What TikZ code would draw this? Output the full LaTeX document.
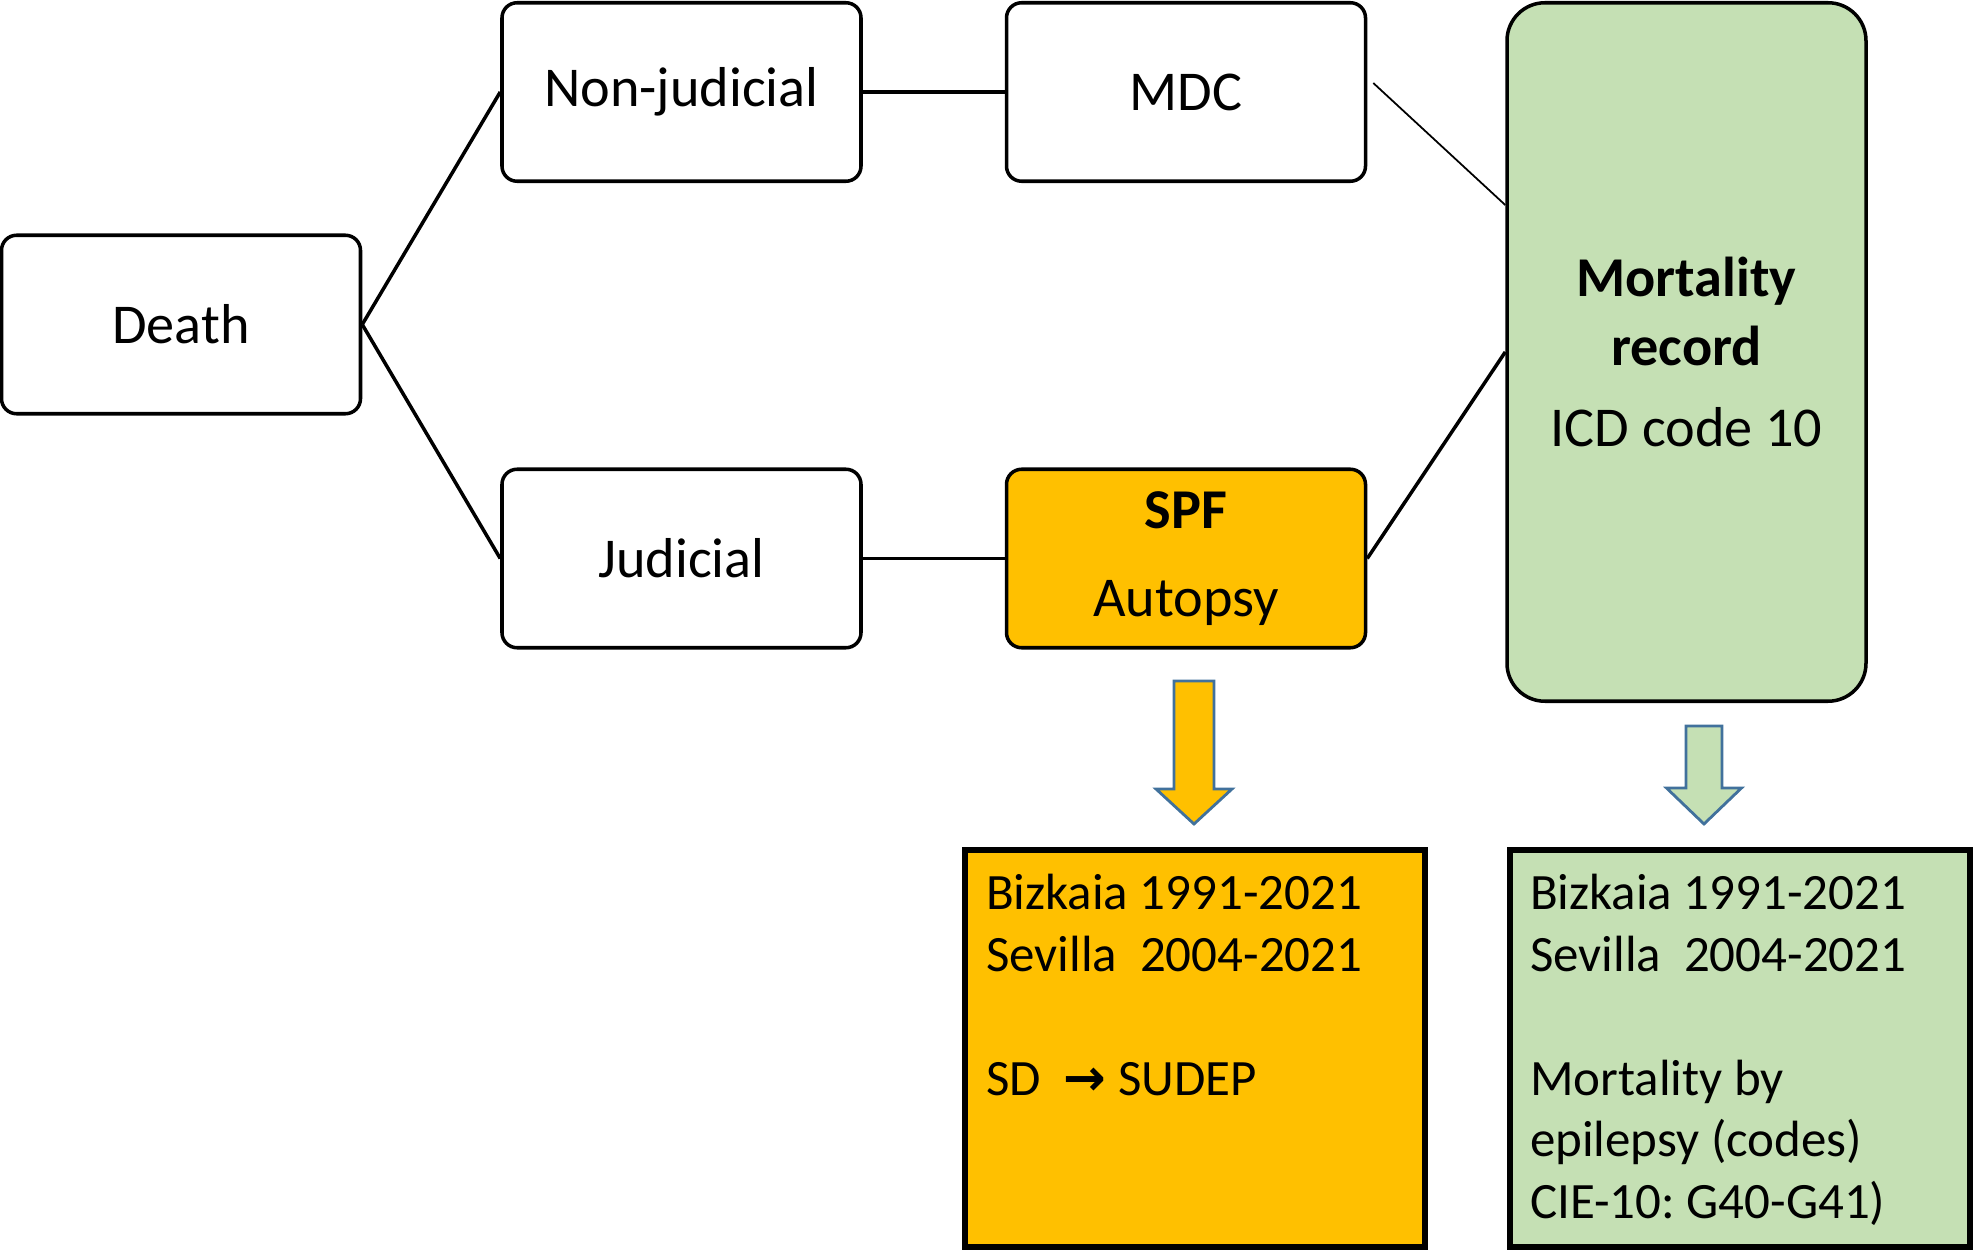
\documentclass[tikz,border=0pt]{standalone}
\usepackage{fontspec}
\setmainfont{Carlito}
\newfontfamily\arrowfont{DejaVu Sans}
\usepackage{tikz}
\usetikzlibrary{positioning}
\definecolor{SpfOrange}{HTML}{FFC000}
\definecolor{RecordGreen}{HTML}{C5E0B4}
\definecolor{ArrowEdge}{HTML}{41719C}
\frenchspacing

\begin{document}
\begin{tikzpicture}[
    box/.style={draw, line width=1pt, rounded corners=4.3pt, minimum width=3.59cm,
                minimum height=1.785cm, inner sep=0pt, align=center,
                font=\fontsize{16}{19.5}\selectfont},
    databox/.style={draw, line width=1.5pt, minimum width=4.6cm, minimum height=3.97cm, inner sep=0pt},
    datatext/.style={anchor=north west, inner sep=0pt, align=left, font=\fontsize{14.5}{17.6}\selectfont},
    link/.style={line width=1pt},
    blockarrow/.style={draw=ArrowEdge, line width=0.8pt, line join=miter}
]
\useasboundingbox (0,0) rectangle (19.73,-12.50);

% tree of boxes
\node[box] (death) at (1.81,-3.245) {Death};
\node[box] (nonjud) at (6.815,-0.92) {Non-judicial};
\node[box, right=1.42cm of nonjud] (mdc) {MDC};
\node[box] (jud) at (6.815,-5.585) {Judicial};
\node[box, fill=SpfOrange, right=1.42cm of jud] (spf) {\textbf{SPF}\\[5.5pt] Autopsy};
\node[box, fill=RecordGreen, rounded corners=10.8pt, minimum height=6.985cm] (record) at (16.865,-3.52)
    {\textbf{Mortality}\\ \textbf{record}\\[3.5pt] ICD code 10};

\draw[link] (death.east) -- (nonjud.west);
\draw[link] (death.east) -- (jud.west);
\draw[link] (nonjud) -- (mdc);
\draw[link] (jud) -- (spf);
\draw[line width=0.5pt] ([shift={(0.06,0.09)}]mdc.east) -- ([yshift=1.47cm]record.west);
\draw[link] (spf.east) -- (record.west);

% data boxes
\node[databox, fill=SpfOrange] (spfdata) at (11.95,-10.485) {};
\node[databox, fill=RecordGreen] (recdata) at (17.40,-10.485) {};
\node[datatext] (spftext) at ([shift={(0.23,-0.26)}]spfdata.north west)
    {Bizkaia 1991-2021\\ Sevilla\ \ 2004-2021\\[17.6pt] SD\ \ {\arrowfont\bfseries →} SUDEP};
\node[datatext] (rectext) at ([shift={(0.22,-0.26)}]recdata.north west)
    {Bizkaia 1991-2021\\ Sevilla\ \ 2004-2021\\[17.6pt] Mortality by\\ epilepsy (codes)\\ CIE-10: G40-G41)};

% block arrows
\draw[blockarrow, fill=SpfOrange] (11.74,-6.81) -- (12.14,-6.81) -- (12.14,-7.89) -- (12.32,-7.89)
    -- (11.94,-8.24) -- (11.56,-7.89) -- (11.74,-7.89) -- cycle;
\draw[blockarrow, fill=RecordGreen] (16.86,-7.26) -- (17.22,-7.26) -- (17.22,-7.88) -- (17.415,-7.88)
    -- (17.04,-8.24) -- (16.665,-7.88) -- (16.86,-7.88) -- cycle;
\end{tikzpicture}
\end{document}
